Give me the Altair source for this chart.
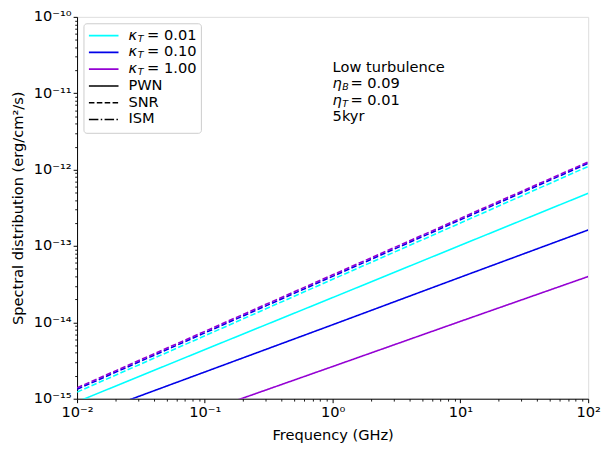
import altair as alt
import pandas as pd

# ---------------- data ----------------
freq_ghz = [0.01, 0.1, 1.0, 10.0, 100.0]
kappa_labels = ["0.01", "0.10", "1.00"]
source_labels = ["PWN", "SNR", "ISM"]

pwn_k001 = [9.1e-16, 4.40e-15, 2.11e-14, 1.02e-13, 4.90e-13]
snr_k001 = [1.22e-15, 6.67e-15, 3.66e-14, 2.00e-13, 1.10e-12]
pwn_k010 = [5.4e-16, 2.24e-15, 9.3e-15, 3.9e-14, 1.62e-13]
snr_k010 = [1.33e-15, 7.28e-15, 4.00e-14, 2.20e-13, 1.21e-12]
pwn_k100 = [1.75e-16, 6.8e-16, 2.64e-15, 1.03e-14, 3.98e-14]
snr_k100 = [1.39e-15, 7.62e-15, 4.19e-14, 2.30e-13, 1.26e-12]

x_tick_values = [0.01, 0.1, 1.0, 10.0, 100.0]
x_tick_labels = ["10⁻²", "10⁻¹", "10⁰", "10¹", "10²"]
y_tick_values = [1e-15, 1e-14, 1e-13, 1e-12, 1e-11, 1e-10]
y_tick_labels = ["10⁻¹⁵", "10⁻¹⁴", "10⁻¹³", "10⁻¹²", "10⁻¹¹", "10⁻¹⁰"]

kappa_colors = ["#00ffff", "#0000e8", "#9400d3"]

series = [
    ("0.01", "PWN", pwn_k001), ("0.01", "SNR", snr_k001),
    ("0.10", "PWN", pwn_k010), ("0.10", "SNR", snr_k010),
    ("1.00", "PWN", pwn_k100), ("1.00", "SNR", snr_k100),
]
rows = []
for order, (k, src, vals) in enumerate(series):
    for f, v in zip(freq_ghz, vals):
        rows.append({"freq": f, "value": v, "kappa": k, "source": src,
                     "series": f"{order}_{k}_{src}"})
df = pd.DataFrame(rows)

# ---------------- styling helpers ----------------
FONT = "DejaVu Sans"
FS = 14.8
SUB = 9.6
W, H = 518, 387
LW = 1.6
DASHES = [[1, 0], [5.6, 2.4], [9.6, 2.4, 1.5, 2.4]]


def label_expr(values, labels):
    expr = "''"
    for v, lab in reversed(list(zip(values, labels))):
        expr = f"(datum.value < {v * 3.0:g}) ? '{lab}' : ({expr})"
    return expr


minor_x = [m * 10.0 ** e for e in range(-2, 2) for m in range(2, 10)]
minor_y = [m * 10.0 ** e for e in range(-15, -10) for m in range(2, 10)]

x_scale = alt.Scale(type="log", domain=[0.01, 100], nice=False)
y_scale = alt.Scale(type="log", domain=[1e-15, 1e-10], nice=False)

axis_common = dict(grid=False, tickColor="black", tickWidth=1, domainColor="black",
                   domainWidth=1, labelFont=FONT, labelFontSize=FS, labelColor="black",
                   titleFont=FONT, titleFontSize=FS, titleFontWeight="normal",
                   titleColor="black", labelFlush=False)

lines = alt.Chart(df).mark_line(strokeWidth=LW, clip=True).encode(
    x=alt.X("freq:Q", scale=x_scale,
            axis=alt.Axis(values=x_tick_values, labelExpr=label_expr(x_tick_values, x_tick_labels),
                          tickSize=4, labelPadding=2, title="Frequency (GHz)",
                          titlePadding=9, orient="bottom", **axis_common)),
    y=alt.Y("value:Q", scale=y_scale,
            axis=alt.Axis(values=y_tick_values, labelExpr=label_expr(y_tick_values, y_tick_labels),
                          tickSize=4, labelPadding=2, title="Spectral distribution (erg/cm²/s)",
                          titlePadding=8, orient="left", **axis_common)),
    color=alt.Color("kappa:N", scale=alt.Scale(domain=kappa_labels, range=kappa_colors), legend=None),
    strokeDash=alt.StrokeDash("source:N", scale=alt.Scale(domain=source_labels, range=DASHES), legend=None),
    detail="series:N",
    order=alt.Order("series:N"),
)

minor = alt.Chart(df).mark_point(opacity=0).encode(
    x=alt.X("freq:Q", scale=x_scale,
            axis=alt.Axis(values=minor_x, labels=False, tickSize=2.4, domain=False, title=None,
                          orient="bottom", grid=False, tickColor="black", tickWidth=0.9)),
    y=alt.Y("value:Q", scale=y_scale,
            axis=alt.Axis(values=minor_y, labels=False, tickSize=2.4, domain=False, title=None,
                          orient="left", grid=False, tickColor="black", tickWidth=0.9)),
)

one = pd.DataFrame({"_": [0]})


def txt(x, y, s, size=FS, italic=False):
    return alt.Chart(one).mark_text(
        text=s, font=FONT, fontSize=size, fontStyle="italic" if italic else "normal",
        align="left", baseline="middle", color="black",
    ).encode(x=alt.value(x), y=alt.value(y))


def sample(y, color, dash):
    return alt.Chart(one).mark_rule(color=color, strokeWidth=LW, strokeDash=dash).encode(
        x=alt.value(12), x2=alt.value(42), y=alt.value(y))


legend_layers = [
    alt.Chart(one).mark_rect(fill="white", fillOpacity=0.8, stroke="#cccccc", strokeWidth=1,
                             cornerRadius=3).encode(
        x=alt.value(7), x2=alt.value(126), y=alt.value(7), y2=alt.value(118))
]
row_y = [19, 36, 53, 70, 87, 104]
for i, (k, c) in enumerate(zip(kappa_labels, kappa_colors)):
    yy = row_y[i]
    legend_layers += [sample(yy, c, DASHES[0]),
                      txt(52, yy, "κ", italic=True),
                      txt(61.5, yy + 3, "T", size=SUB, italic=True),
                      txt(71, yy, "= " + k)]
for j, (src, d) in enumerate(zip(source_labels, DASHES)):
    yy = row_y[3 + j]
    legend_layers += [sample(yy, "black", d), txt(52, yy, src)]

ann_x = 259
annotation = [
    txt(ann_x, 52, "Low turbulence"),
    txt(ann_x, 68.5, "η", italic=True),
    txt(ann_x + 9.8, 71.5, "B", size=SUB, italic=True),
    txt(ann_x + 18, 68.5, "= 0.09"),
    txt(ann_x, 85, "η", italic=True),
    txt(ann_x + 9.8, 88, "T", size=SUB, italic=True),
    txt(ann_x + 18, 85, "= 0.01"),
    txt(ann_x, 102, "5kyr"),
]

chart = alt.layer(lines, minor, *legend_layers, *annotation).resolve_axis(
    x="independent", y="independent"
).properties(
    width=W, height=H,
    autosize=alt.AutoSizeParams(type="none"),
    padding={"left": 70, "top": 6, "right": 13, "bottom": 50},
).configure_view(stroke="black", strokeWidth=1).configure(background="white")

chart.save("out.html", embed_options={"renderer": "svg", "actions": False})
